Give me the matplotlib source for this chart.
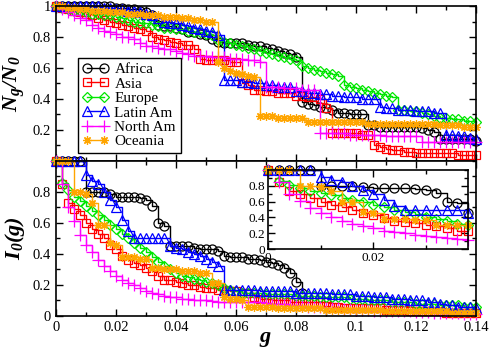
import numpy as np
import matplotlib
matplotlib.use('Agg')
import matplotlib.pyplot as plt
from matplotlib.ticker import MultipleLocator, FormatStrFormatter

plt.rcParams['font.family'] = ['Liberation Serif', 'DejaVu Serif']
plt.rcParams['mathtext.fontset'] = 'custom'
plt.rcParams['mathtext.rm'] = 'Liberation Serif'
plt.rcParams['mathtext.it'] = 'Liberation Serif:italic'
plt.rcParams['mathtext.bf'] = 'Liberation Serif:italic:bold'

regions = ['Africa', 'Asia', 'Europe', 'Latin Am', 'North Am', 'Oceania']

# fraction of removed nodes, sampled every 0.002
g = np.linspace(0, 0.14, 71)

# top panel: N_g / N_0
africa_N = [1.0, 1.0, 1.0, 1.0, 1.0, 1.0, 1.0, 1.0, 1.0, 1.0,
            .99, .99, .98, .98, .97, .96, .94, .88, .87, .87,
            .86, .85, .83, .83, .82, .81, .79, .77, .76, .76,
            .76, .76, .75, .74, .74, .73, .72, .71, .70, .69,
            .67, .38, .37, .36, .35, .34, .33, .31, .31, .30,
            .30, .30, .23, .23, .22, .22, .22, .22, .22, .22,
            .22, .21, .20, .19, .14, .14, .14, .14, .14, .14, .13]
asia_N = [1.0, .99, .98, .97, .96, .95, .94, .92, .91, .90,
          .89, .88, .87, .86, .85, .84, .80, .79, .78, .77,
          .76, .75, .75, .72, .66, .65, .65, .65, .65, .64,
          .64, .50, .49, .46, .46, .45, .45, .44, .44, .44,
          .42, .42, .41, .41, .40, .34, .18, .18, .18, .18,
          .18, .17, .17, .10, .09, .08, .07, .07, .06, .06,
          .05, .05, .05, .05, .05, .05, .05, .04, .04, .04, .04]
europe_N = [1.0, .99, .98, .97, .97, .96, .95, .95, .94, .94,
            .93, .92, .91, .90, .89, .89, .88, .87, .86, .86,
            .85, .85, .84, .83, .83, .82, .81, .78, .77, .76,
            .75, .74, .73, .72, .71, .70, .69, .68, .67, .66,
            .65, .61, .60, .59, .58, .57, .56, .55, .49, .48,
            .47, .46, .45, .44, .43, .42, .41, .33, .33, .32,
            .32, .31, .30, .29, .28, .28, .27, .27, .26, .26, .25]
latin_N = [1.0, 1.0, 1.0, 1.0, 1.0, 1.0, 1.0, 1.0, .99, .99,
           .98, .98, .97, .97, .96, .95, .94, .92, .90, .89,
           .89, .88, .87, .86, .85, .84, .83, .81, .52, .52,
           .52, .51, .51, .50, .50, .49, .49, .48, .48, .48,
           .45, .45, .44, .44, .43, .43, .42, .42, .41, .41,
           .41, .40, .40, .40, .35, .34, .34, .33, .33, .33,
           .32, .32, .32, .31, .31, .17, .17, .16, .16, .15, .14]
northam_N = [1.0, .98, .96, .94, .92, .91, .88, .86, .84, .83,
             .82, .80, .80, .79, .76, .74, .74, .73, .72, .72,
             .71, .70, .69, .68, .68, .68, .67, .67, .67, .66,
             .66, .66, .65, .65, .64, .48, .48, .48, .47, .47,
             .47, .46, .46, .46, .18, .18, .18, .18, .18, .17,
             .17, .17, .17, .17, .17, .16, .16, .16, .16, .16,
             .16, .12, .12, .12, .12, .12, .12, .12, .12, .12, .12]
oceania_N = [1.0, 1.0, .99, .99, .98, .98, .97, .97, .97, .96,
             .96, .96, .95, .95, .95, .94, .94, .94, .93, .93,
             .93, .92, .92, .91, .91, .90, .90, .64, .60, .58,
             .57, .56, .55, .54, .29, .29, .29, .28, .28, .28,
             .28, .28, .25, .25, .25, .25, .25, .25, .25, .25,
             .25, .25, .24, .24, .24, .24, .24, .24, .24, .24,
             .24, .24, .24, .24, .23, .23, .23, .23, .22, .22, .22]

# bottom panel: I_0(g)  (Africa's visible curve ends at the drop near g = 0.082)
africa_I = [1.0, 1.0, 1.0, 1.0, 1.0, .80, .80, .80, .80, .79,
            .77, .77, .77, .77, .76, .75, .71, .60, .58, .45,
            .45, .45, .45, .44, .43, .43, .43, .42, .39, .38,
            .38, .38, .37, .37, .36, .35, .34, .33, .31, .28,
            .22, .15]
asia_I = [1.0, .85, .73, .69, .65, .60, .56, .53, .50, .46,
          .43, .39, .36, .34, .33, .31, .29, .26, .23, .23,
          .22, .21, .20, .20, .19, .18, .18, .17, .17, .16,
          .16, .15, .15, .12, .11, .11, .10, .10, .10, .09,
          .09, .09, .09, .09, .09, .09, .06, .06, .05, .05,
          .05, .05, .05, .05, .05, .04, .04, .04, .04, .03,
          .03, .03, .03, .03, .03, .02, .02, .02, .02, .02, .02]
europe_I = [1.0, .86, .81, .77, .74, .71, .68, .65, .62, .59,
            .56, .53, .50, .47, .44, .41, .38, .35, .32, .30,
            .28, .26, .25, .24, .23, .22, .21, .20, .18, .17,
            .16, .15, .15, .15, .15, .14, .14, .14, .14, .14,
            .13, .13, .13, .13, .12, .12, .12, .12, .12, .11,
            .11, .11, .10, .10, .10, .10, .09, .09, .09, .09,
            .08, .08, .08, .08, .07, .07, .07, .07, .06, .06, .06]
latin_I = [1.0, 1.0, 1.0, 1.0, 1.0, .91, .87, .85, .80, .75,
           .70, .62, .55, .50, .50, .50, .50, .50, .50, .45,
           .44, .43, .41, .40, .39, .37, .35, .32, .17, .17,
           .17, .17, .17, .17, .16, .16, .16, .16, .16, .16,
           .15, .15, .15, .15, .15, .15, .14, .14, .14, .14,
           .13, .13, .13, .12, .12, .12, .11, .11, .11, .10,
           .10, .10, .09, .09, .08, .07, .07, .06, .06, .06, .05]
northam_I = [1.0, .85, .70, .61, .52, .46, .41, .36, .32, .29,
             .26, .23, .21, .20, .18, .16, .15, .14, .13, .12,
             .12, .11, .11, .105, .10, .10, .095, .09, .09, .09,
             .09, .09, .09, .09, .09, .085, .08, .08, .075, .07,
             .07, .065, .06, .06, .055, .05, .05, .05, .045, .045,
             .04, .04, .04, .035, .035, .035, .03, .03, .03, .03,
             .025, .025, .025, .02, .02, .02, .02, .02, .015, .015, .015]
oceania_I = [1.0, 1.0, 1.0, .80, .80, .79, .73, .59, .59, .47,
             .46, .38, .38, .38, .37, .37, .31, .31, .30, .30,
             .30, .29, .29, .29, .28, .28, .21, .21, .12, .11,
             .11, .10, .06, .06, .06, .06, .06, .05, .05, .05,
             .05, .05, .05, .05, .05, .04, .04, .04, .04, .04,
             .04, .04, .04, .04, .04, .03, .03, .03, .03, .03,
             .03, .03, .03, .03, .03, .03, .02, .02, .02, .02, .02]

N_data = [africa_N, asia_N, europe_N, latin_N, northam_N, oceania_N]
I_data = [africa_I, asia_I, europe_I, latin_I, northam_I, oceania_I]

colors = ['black', 'red', '#00e600', 'blue', 'magenta', 'orange']
markers = ['o', 's', 'D', '^', '+', (8, 2, 0)]
msizes = [6.5, 5.5, 5, 6.5, 8, 6]
n_inset = 20   # points with g <= 0.038


def style(ax, fs):
    ax.tick_params(which='both', direction='in', top=True, right=True,
                   labelsize=fs, width=1)
    ax.tick_params(which='major', length=5)
    ax.tick_params(which='minor', length=3)
    for s in ax.spines.values():
        s.set_linewidth(1.2)


fig = plt.figure(figsize=(4.91, 3.49), dpi=100)
ax1 = fig.add_axes([0.114, 0.5387, 0.8554, 0.4441])
ax2 = fig.add_axes([0.114, 0.0946, 0.8554, 0.4441])
ax3 = fig.add_axes([0.5458, 0.2865, 0.4073, 0.2264])

for i in range(len(regions)):
    kw = dict(color=colors[i], marker=markers[i], ms=msizes[i],
              mfc='none', mec=colors[i], mew=0.9, lw=1.0,
              drawstyle='steps-post', clip_on=False)
    ax1.plot(g, N_data[i], label=regions[i], **kw)
    ax2.plot(g[:len(I_data[i])], I_data[i], **kw)
    ax3.plot(g[:n_inset], I_data[i][:n_inset], **kw)

for ax in (ax1, ax2):
    ax.set_xlim(0, 0.14)
    ax.set_ylim(0, 1.0)
    ax.xaxis.set_major_locator(MultipleLocator(0.02))
    ax.xaxis.set_minor_locator(MultipleLocator(0.01))
    ax.yaxis.set_major_locator(MultipleLocator(0.2))
    ax.yaxis.set_minor_locator(MultipleLocator(0.1))
    ax.xaxis.set_major_formatter(FormatStrFormatter('%g'))
    ax.yaxis.set_major_formatter(FormatStrFormatter('%g'))
    style(ax, 10.5)

ax1.set_yticks([0.2, 0.4, 0.6, 0.8, 1.0])
ax1.tick_params(labelbottom=False)
ax2.set_yticks([0, 0.2, 0.4, 0.6, 0.8])

ax1.set_ylabel(r'$\mathbf{N_g/N_0}$', fontsize=16, labelpad=4)
ax2.set_ylabel(r'$\mathbf{I_0(g)}$', fontsize=16, labelpad=4)
ax2.set_xlabel(r'$\mathbf{g}$', fontsize=16, labelpad=-3)

ax3.set_xlim(0, 0.038)
ax3.set_ylim(0, 1.0)
ax3.xaxis.set_major_locator(MultipleLocator(0.02))
ax3.xaxis.set_minor_locator(MultipleLocator(0.01))
ax3.set_yticks([0, 0.2, 0.4, 0.6, 0.8])
ax3.yaxis.set_minor_locator(MultipleLocator(0.1))
ax3.xaxis.set_major_formatter(FormatStrFormatter('%g'))
ax3.yaxis.set_major_formatter(FormatStrFormatter('%g'))
style(ax3, 9.5)
ax3.tick_params(pad=2)

leg = ax1.legend(loc='upper left', bbox_to_anchor=(0.052, 0.665),
                 borderaxespad=0, fontsize=11, numpoints=2,
                 handlelength=1.7, handletextpad=0.4, labelspacing=0.05,
                 borderpad=0.3, fancybox=False, framealpha=1)
leg.get_frame().set_edgecolor('black')
leg.get_frame().set_linewidth(1.0)

fig.savefig('out.png', dpi=100)
